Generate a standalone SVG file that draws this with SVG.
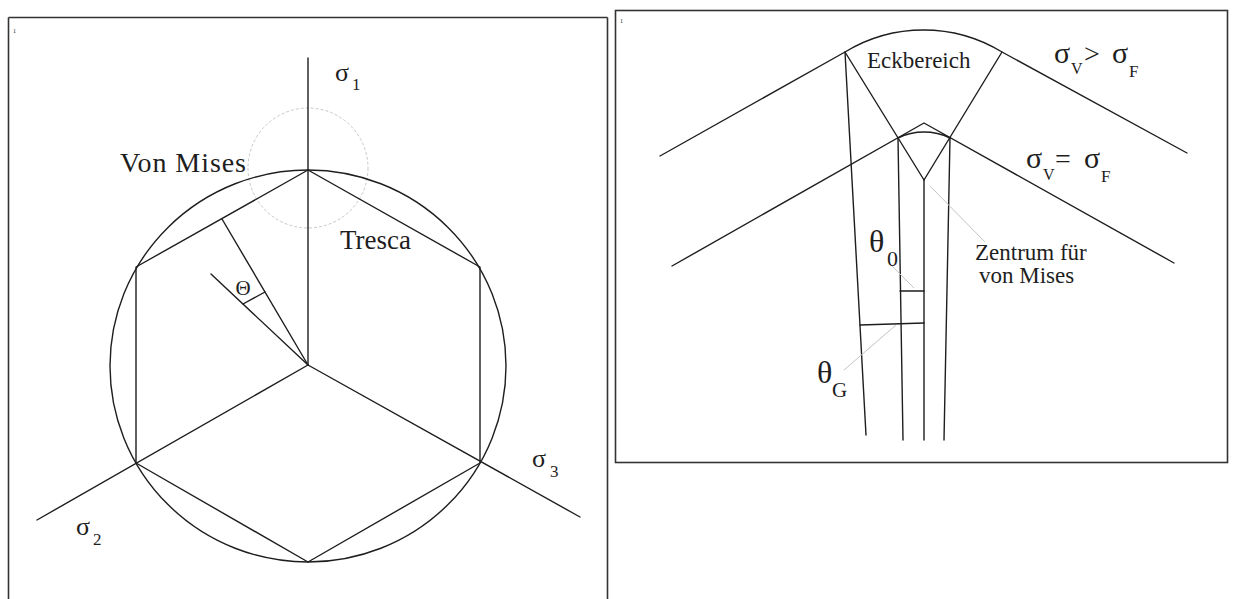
<svg xmlns="http://www.w3.org/2000/svg" width="1233" height="599" viewBox="0 0 1233 599">
<style>
.ln{fill:none;stroke:#1e1e1e;stroke-width:1.4;stroke-linecap:round;stroke-linejoin:round}
.fr{fill:none;stroke:#333;stroke-width:1.6}
.fa{fill:none;stroke:#c4c4c4;stroke-width:1}
.t{font-family:"Liberation Serif","Times New Roman",serif;fill:#1e1e1e}
</style>
<rect width="1233" height="599" fill="#fff"/>
<g id="left-panel">
<path class="fr" d="M8.5 17.5 H607.5 M8.5 17.5 V599 M607.5 17.5 V599"/>
<text class="t" x="13" y="33" font-size="6">1</text>
<circle id="corner-circle" cx="308" cy="168" r="60" fill="none" stroke="#c8c8c8" stroke-width="1" stroke-dasharray="3 2"/>
<ellipse id="von-mises-circle" class="ln" cx="308" cy="366" rx="198" ry="196"/>
<polygon id="tresca-hexagon" class="ln" points="308,170 136,267 136,463 308,562 480,463 480,267"/>
<g id="axes">
<line class="ln" x1="308" y1="58" x2="308" y2="365"/>
<line class="ln" x1="308" y1="365" x2="37" y2="520"/>
<line class="ln" x1="308" y1="365" x2="580" y2="517"/>
</g>
<g id="theta-angle">
<line class="ln" x1="222" y1="219" x2="308" y2="365"/>
<line class="ln" x1="211" y1="274" x2="308" y2="365"/>
<line class="ln" x1="243" y1="304" x2="265" y2="292"/>
<text class="t" x="243" y="295" font-size="21" text-anchor="middle">Θ</text>
</g>
<g id="labels-left">
<text class="t" x="120" y="172" font-size="28" textLength="126" lengthAdjust="spacing">Von Mises</text>
<text class="t" x="340" y="249" font-size="27">Tresca</text>
<text class="t" x="335" y="81" font-size="26">σ<tspan x="352" y="90" font-size="17">1</tspan></text>
<text class="t" x="76" y="535" font-size="26">σ<tspan x="93" y="545" font-size="17">2</tspan></text>
<text class="t" x="532" y="467" font-size="26">σ<tspan x="550" y="477" font-size="17">3</tspan></text>
</g>
</g>
<g id="right-panel">
<rect class="fr" x="615.5" y="10.5" width="612" height="452"/>
<text class="t" x="620" y="23" font-size="6">1</text>
<g id="outer-surface">
<path class="ln" d="M660 156 L845 52 A151 151 0 0 1 1002 52 L1187 153"/>
</g>
<g id="inner-surface">
<path class="ln" d="M672 266 L924 123 L1174 263"/>
<path class="ln" d="M898 138 A60 60 0 0 1 950 138"/>
</g>
<g id="connectors">
<line class="ln" x1="845" y1="52" x2="866" y2="435"/>
<line class="ln" x1="845" y1="52" x2="924" y2="180"/>
<line class="ln" x1="1002" y1="52" x2="924" y2="180"/>
<line class="ln" x1="898" y1="138" x2="903" y2="440"/>
<line class="ln" x1="924" y1="180" x2="924" y2="440"/>
<line class="ln" x1="950" y1="138" x2="944" y2="440"/>
<line class="ln" x1="900" y1="291" x2="924" y2="291"/>
<line class="ln" x1="860" y1="325" x2="924" y2="323"/>
<line class="fa" x1="930" y1="186" x2="985" y2="242"/>
<line class="fa" x1="888" y1="262" x2="914" y2="288"/>
<line class="fa" x1="844" y1="370" x2="896" y2="325"/>
</g>
<g id="labels-right">
<text class="t" x="867" y="68" font-size="23">Eckbereich</text>
<text class="t" font-size="30"><tspan x="1054" y="63">σ</tspan><tspan x="1071" y="74" font-size="16">V</tspan><tspan x="1084" y="63" font-size="28">&gt;</tspan><tspan x="1112" y="63">σ</tspan><tspan x="1129" y="77" font-size="17">F</tspan></text>
<text class="t" font-size="30"><tspan x="1026" y="168">σ</tspan><tspan x="1043" y="180" font-size="16">V</tspan><tspan x="1055" y="168" font-size="28">=</tspan><tspan x="1084" y="168">σ</tspan><tspan x="1101" y="182" font-size="17">F</tspan></text>
<text class="t" x="975" y="260" font-size="23">Zentrum für</text>
<text class="t" x="979" y="283" font-size="23">von Mises</text>
<text class="t" x="869" y="252" font-size="32">θ<tspan x="887" y="266" font-size="22">0</tspan></text>
<text class="t" x="817" y="383" font-size="32">θ<tspan x="832" y="397" font-size="21">G</tspan></text>
</g>
</g>
</svg>
